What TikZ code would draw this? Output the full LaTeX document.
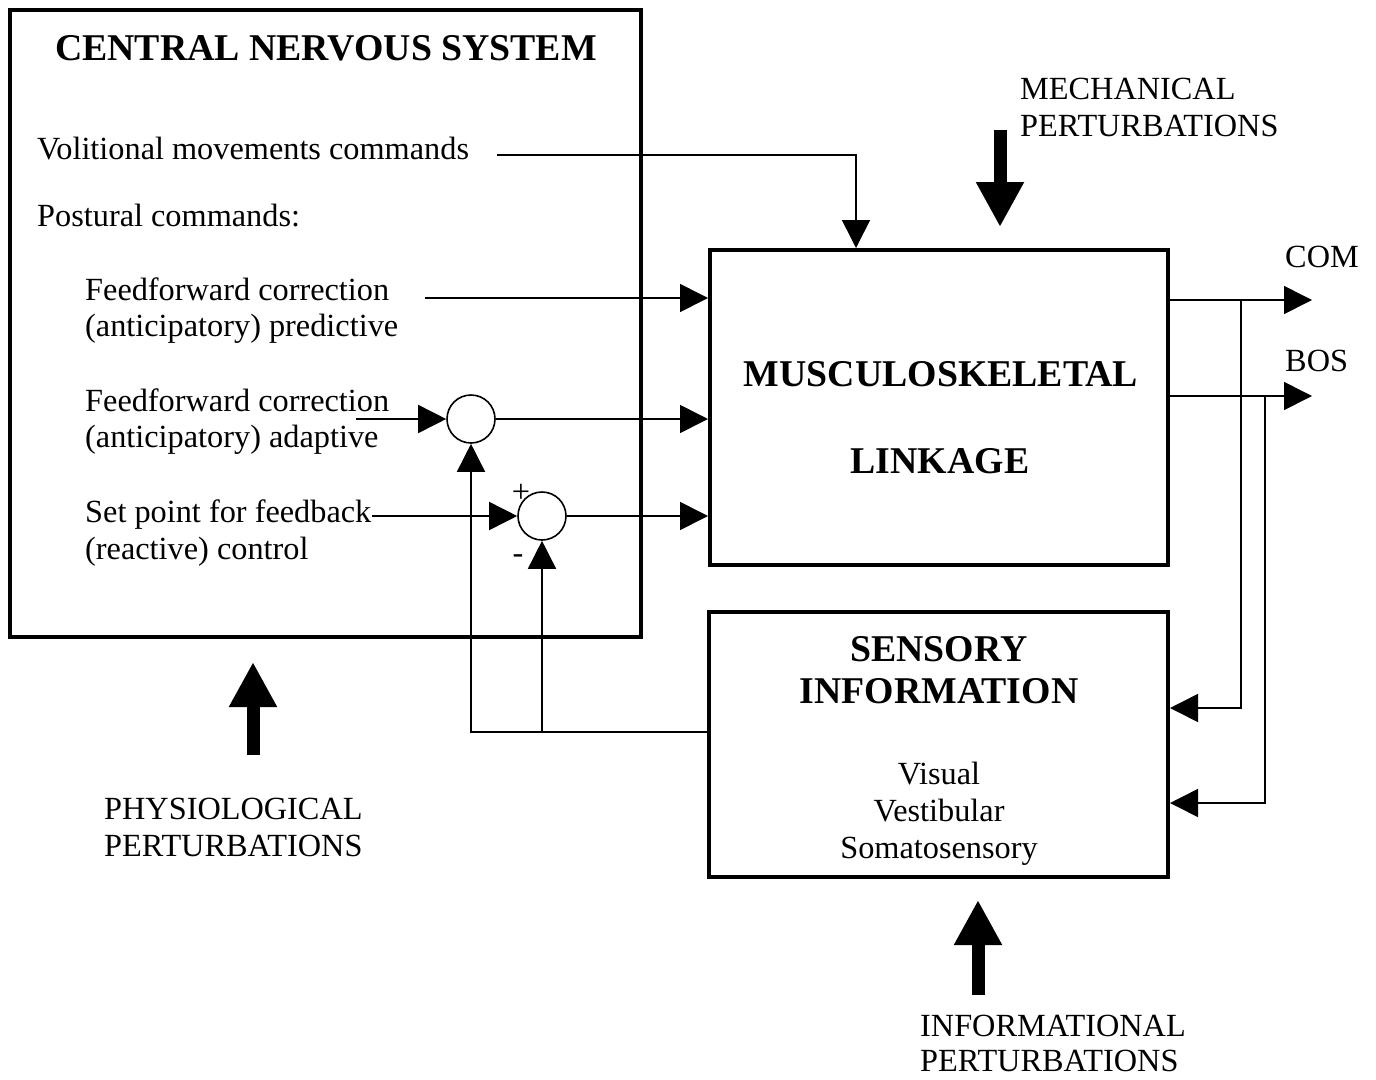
\documentclass[tikz,border=0pt]{standalone}
\usepackage{fontspec}
\setmainfont{Liberation Serif}
\usetikzlibrary{arrows.meta}
\begin{document}
\begin{tikzpicture}[x=1pt,y=-1pt,
  txt/.style={inner sep=0pt,font=\fontsize{32.3}{37}\selectfont},
  btxt/.style={inner sep=0pt,font=\fontsize{37.8}{42}\selectfont\bfseries},
  bigbox/.style={draw,line width=4.5pt,inner sep=0pt},
  sumc/.style={draw,circle,line width=1.6pt,minimum size=48pt,inner sep=0pt},
  arr/.style={line width=1.6pt,-{Triangle[length=28pt,width=28pt]}},
  fat/.style={line width=13pt,-{Triangle[length=45pt,width=45pt]}},
  ]
\useasboundingbox (0,0) rectangle (1376,1079);
% boxes
\node[bigbox,minimum width=631pt,minimum height=627pt] (cns) at (325.5,323.5) {};
\node[bigbox,line width=4pt,minimum width=458pt,minimum height=315pt] (msk) at (939,407.5) {};
\node[bigbox,line width=4pt,minimum width=459pt,minimum height=265pt] (sens) at (938.5,744.5) {};
% CNS texts
\node[btxt,anchor=base] (cnst) at (326,60) {CENTRAL NERVOUS SYSTEM};
\node[txt,anchor=base west] (vol) at (37,159) {Volitional movements commands};
\node[txt,anchor=base west] (post) at (37,226) {Postural commands:};
\node[txt,anchor=base west] (ff1a) at (85,300) {Feedforward correction};
\node[txt,anchor=base west] (ff1b) at (85,336) {(anticipatory) predictive};
\node[txt,anchor=base west] (ff2a) at (85,411) {Feedforward correction};
\node[txt,anchor=base west] (ff2b) at (85,447) {(anticipatory) adaptive};
\node[txt,anchor=base west] (spa) at (85,522) {Set point for feedback};
\node[txt,anchor=base west] (spb) at (85,559) {(reactive) control};
% MSK texts
\node[btxt,anchor=base] (mskA) at (941,386) {MUSCULOSKELETAL};
\node[btxt,anchor=base] (mskB) at (940,473) {LINKAGE};
% sensory texts
\node[btxt,anchor=base] (senA) at (939,661) {SENSORY};
\node[btxt,anchor=base] (senB) at (939,703) {INFORMATION};
\node[txt,anchor=base] (senC) at (939,784) {Visual};
\node[txt,anchor=base] (senD) at (939,821) {Vestibular};
\node[txt,anchor=base] (senE) at (939,858) {Somatosensory};
% perturbation labels
\node[txt,anchor=base west] (mecA) at (1020,99) {MECHANICAL};
\node[txt,anchor=base west] (mecB) at (1020,136) {PERTURBATIONS};
\node[txt,anchor=base west] (phyA) at (104,819) {PHYSIOLOGICAL};
\node[txt,anchor=base west] (phyB) at (104,856) {PERTURBATIONS};
\node[txt,anchor=base west] (infA) at (920,1036) {INFORMATIONAL};
\node[txt,anchor=base west] (infB) at (920,1071) {PERTURBATIONS};
\node[txt,anchor=base west] (comL) at (1285,267) {COM};
\node[txt,anchor=base west] (bosL) at (1285,371) {BOS};
% summing junctions
\node[sumc] (s1) at (471,419) {};
\node[sumc] (s2) at (542,516) {};
\node[txt] (plus) at (521,493) {+};
\node[txt] (minus) at (518,559) {-};
% coordinates
\coordinate (v0) at (497,155);
\coordinate (vx) at (856,0);
\coordinate (p0) at (425,298);
\coordinate (a0) at (356,419);
\coordinate (b0) at (372,516);
\coordinate (fy) at (0,732);
\coordinate (j1) at (1241,300);
\coordinate (j2) at (1265,396);
\coordinate (com) at (1312,300);
\coordinate (bos) at (1312,396);
\coordinate (k1) at (1241,708);
\coordinate (k2) at (1265,803);
\coordinate (m0) at (1000,130);
\coordinate (m1) at (1000,227);
\coordinate (ph0) at (253,755);
\coordinate (ph1) at (253,662);
\coordinate (in0) at (978,995);
\coordinate (in1) at (978,900);
% connectors
\draw[arr] (v0) -| (msk.north -| vx);
\draw[arr] (p0) -- (p0 -| msk.west);
\draw[arr] (a0) -- (s1.west);
\draw[arr] (s1.east) -- (s1.east -| msk.west);
\draw[arr] (b0) -- (s2.west);
\draw[arr] (s2.east) -- (s2.east -| msk.west);
\draw[arr] (sens.west |- fy) -| (s1.south);
\draw[arr] (s2.south |- fy) -- (s2.south);
\draw[arr] (msk.east |- com) -- (com);
\draw[arr] (msk.east |- bos) -- (bos);
\draw[arr] (j1) -- (k1) -- (sens.east |- k1);
\draw[arr] (j2) -- (k2) -- (sens.east |- k2);
\draw[fat] (m0) -- (m1);
\draw[fat] (ph0) -- (ph1);
\draw[fat] (in0) -- (in1);
\end{tikzpicture}
\end{document}
